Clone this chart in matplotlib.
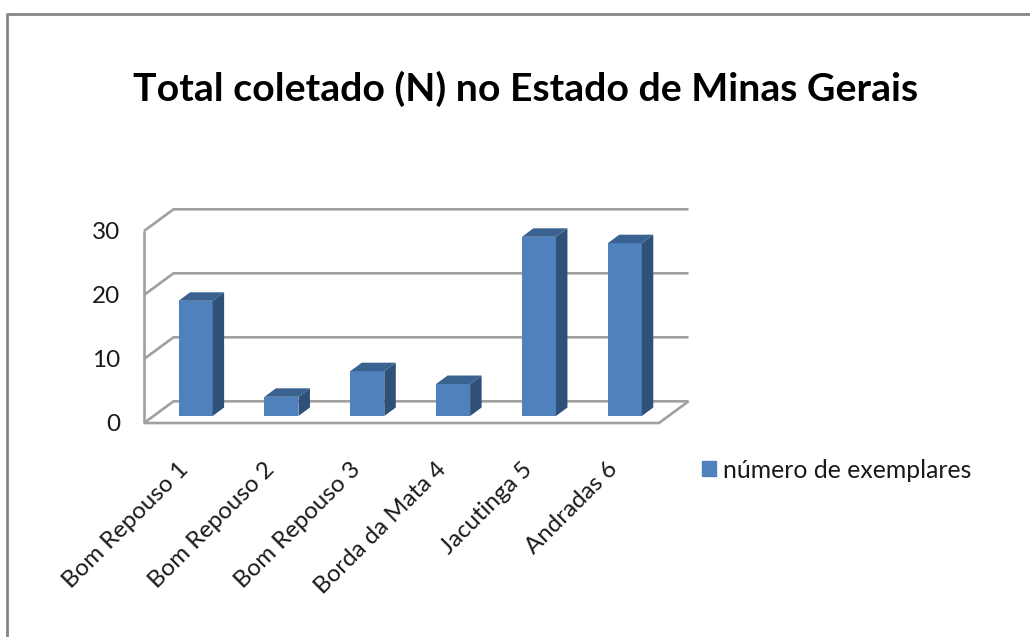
import matplotlib
matplotlib.use("Agg")
import matplotlib.pyplot as plt
from matplotlib.patches import Patch, Polygon

W, H = 1030, 637

categories = ["Bom Repouso 1", "Bom Repouso 2", "Bom Repouso 3",
              "Borda da Mata 4", "Jacutinga 5", "Andradas 6"]
values = [18, 3, 7, 5, 28, 27]
y_ticks = [0, 10, 20, 30]

FRONT = "#4f81bd"
SIDE = "#2f5078"
TOP = "#3a6290"
GRID = "#a0a0a0"
BORDER = "#868686"
TEXT = "#1a1a1a"

plt.rcParams["font.family"] = ["Lato", "DejaVu Sans"]

fig = plt.figure(figsize=(W / 100, H / 100), dpi=100)
# front plane of the fake 3d box, in pixels of the picture
ax = fig.add_axes([144 / W, 1 - 423 / H, (659 - 144) / W, (423 - 231) / H])
ax.set_xlim(0, len(categories))
ax.set_ylim(0, 30)
ax.axis("off")

# sizes of the oblique projection, in data units
unit_x = (659 - 144) / len(categories)
unit_y = (423 - 231) / 30
wall_dx = 29.5 / unit_x
wall_dy = 21.7 / unit_y
bar_w = 34 / unit_x
bar_dx = 11.5 / unit_x
bar_dy = 8.5 / unit_y
base_dx = 8.7 / unit_x
base_dy = 7 / unit_y

line = dict(color=GRID, lw=1.9, clip_on=False, solid_capstyle="butt")

# walls and floor
for t in y_ticks:
    ax.plot([0, wall_dx, 6 + wall_dx], [t, t + wall_dy, t + wall_dy], **line)
ax.plot([0, 0], [0, 30], **line)
ax.plot([0, 6, 6 + wall_dx], [0, 0, wall_dy], **line)

# bars
xs = [i + 0.5 + base_dx for i in range(len(values))]
ax.bar(xs, values, width=bar_w, bottom=base_dy, color=FRONT, zorder=3, clip_on=False)
for x, v in zip(xs, values):
    left = x - bar_w / 2
    right = x + bar_w / 2
    top = base_dy + v
    ax.add_patch(Polygon([(right, base_dy), (right + bar_dx, base_dy + bar_dy),
                          (right + bar_dx, top + bar_dy), (right, top)],
                         color=SIDE, lw=0, zorder=3, clip_on=False))
    ax.add_patch(Polygon([(left, top), (left + bar_dx, top + bar_dy),
                          (right + bar_dx, top + bar_dy), (right, top)],
                         color=TOP, lw=0, zorder=3, clip_on=False))

# tick labels
for t in y_ticks:
    ax.annotate(str(t), (0, t), xytext=(-17, -1), textcoords="offset points",
                ha="right", va="center", fontsize=17.5, color=TEXT)
for i, name in enumerate(categories):
    ax.annotate(name, (i + 0.5, 0), xytext=(-6.5, -25.5), textcoords="offset points",
                ha="right", va="top", rotation=45, rotation_mode="anchor",
                fontsize=17.3, color=TEXT)

fig.text(526 / W, 1 - 88.5 / H, "Total coletado (N) no Estado de Minas Gerais",
         ha="center", va="center", fontsize=28.3, fontweight="bold", color="black")

fig.legend(handles=[Patch(color=FRONT, label="número de exemplares")],
           loc="center left", bbox_to_anchor=(680 / W, 1 - 470 / H), frameon=False,
           fontsize=17.8, handlelength=0.56, handleheight=0.56, handletextpad=0.28,
           labelcolor=TEXT)

# chart area border
fig.add_artist(plt.Line2D([7 / W, 7 / W, 1], [0, 1 - 14 / H, 1 - 14 / H],
                          color=BORDER, lw=2, transform=fig.transFigure))

fig.savefig("out.png", dpi=100)
